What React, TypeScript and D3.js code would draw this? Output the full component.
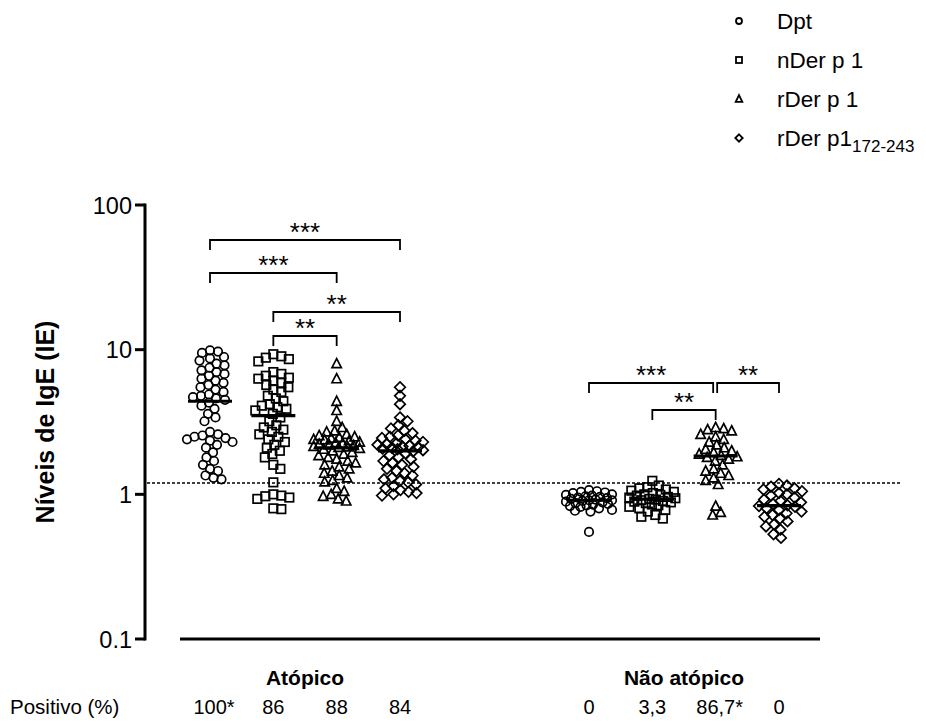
import React from "react";
import * as d3 from "d3";

const groups = ["Atópico", "Não atópico"];
const series = ["Dpt", "nDer p 1", "rDer p 1", "rDer p1"];
const seriesSub = ["", "", "", "172-243"];
const symbolsKind = ["circle", "square", "triangle", "diamond"];

const atopicDpt = [9.9, 9.7, 9.5, 8.9, 8.7, 8.4, 8.0, 7.8, 7.5, 7.2, 7.0, 6.8, 6.6, 6.3, 6.1, 5.9, 5.7, 5.5, 5.3, 5.1, 4.9, 4.8, 4.7, 4.6, 4.5,
  4.3, 4.1, 3.9, 3.6, 3.4, 3.2, 2.7, 2.6, 2.55, 2.5, 2.45, 2.4, 2.35, 2.3, 2.2, 2.1, 1.95, 1.8, 1.7, 1.6, 1.5, 1.45, 1.35, 1.3, 1.27];
const atopicNDer = [9.3, 9.0, 8.8, 8.6, 8.3, 7.0, 6.8, 6.6, 6.4, 6.3, 6.1, 5.9, 5.7, 5.5, 5.3, 5.1, 4.8, 4.6, 4.4, 4.2, 4.1, 4.0, 3.9, 3.8, 3.6,
  3.4, 3.2, 3.0, 2.9, 2.8, 2.7, 2.6, 2.5, 2.4, 2.3, 2.2, 2.1, 2.0, 1.9, 1.8, 1.6, 1.5, 1.21, 1.0, 0.98, 0.97, 0.95, 0.93, 0.8, 0.79];
const atopicRDer = [8.0, 6.3, 4.4, 3.8, 3.2, 2.9, 2.75, 2.7, 2.6, 2.55, 2.5, 2.48, 2.45, 2.4, 2.38, 2.35, 2.3, 2.28, 2.25, 2.22, 2.2, 2.18, 2.15, 2.13, 2.11,
  2.08, 2.05, 2.0, 1.95, 1.9, 1.85, 1.8, 1.75, 1.7, 1.65, 1.6, 1.55, 1.5, 1.45, 1.4, 1.35, 1.3, 1.25, 1.22, 1.1, 1.05, 1.0, 0.97, 0.93, 0.9];
const atopicRDer172 = [5.5, 4.8, 4.2, 3.4, 3.2, 3.0, 2.85, 2.75, 2.65, 2.55, 2.5, 2.45, 2.4, 2.35, 2.3, 2.25, 2.22, 2.2, 2.17, 2.14, 2.12, 2.1, 2.07, 2.05, 2.02,
  1.98, 1.92, 1.86, 1.8, 1.75, 1.7, 1.65, 1.6, 1.55, 1.5, 1.45, 1.4, 1.35, 1.3, 1.27, 1.24, 1.21, 1.17, 1.14, 1.1, 1.07, 1.04, 1.02, 1.0, 0.98];
const nonDpt = [1.07, 1.05, 1.04, 1.03, 1.02, 1.0, 0.99, 0.98, 0.97, 0.96, 0.95, 0.94, 0.93, 0.92, 0.91, 0.91, 0.9, 0.89, 0.88, 0.87,
  0.86, 0.85, 0.84, 0.83, 0.82, 0.8, 0.78, 0.77, 0.76, 0.55];
const nonNDer = [1.24, 1.15, 1.12, 1.1, 1.08, 1.06, 1.04, 1.02, 1.0, 0.99, 0.98, 0.96, 0.95, 0.94, 0.93, 0.92, 0.91, 0.9, 0.89, 0.88,
  0.87, 0.85, 0.84, 0.82, 0.8, 0.78, 0.76, 0.72, 0.7, 0.68];
const nonRDer = [2.9, 2.85, 2.8, 2.75, 2.6, 2.5, 2.4, 2.3, 2.2, 2.1, 2.05, 2.0, 1.95, 1.9, 1.86, 1.82, 1.8, 1.75, 1.7, 1.6,
  1.5, 1.45, 1.4, 1.35, 1.3, 1.25, 1.17, 0.83, 0.75, 0.72];
const nonRDer172 = [1.18, 1.15, 1.13, 1.1, 1.08, 1.05, 1.02, 1.0, 0.98, 0.95, 0.92, 0.9, 0.88, 0.86, 0.84, 0.83, 0.82, 0.8, 0.78, 0.76,
  0.74, 0.72, 0.7, 0.68, 0.65, 0.62, 0.6, 0.57, 0.53, 0.5];

const groupValues = [
  [atopicDpt, atopicNDer, atopicRDer, atopicRDer172],
  [nonDpt, nonNDer, nonRDer, nonRDer172],
];
const positiveLabels = [
  ["100*", "86", "88", "84"],
  ["0", "3,3", "86,7*", "0"],
];
const cutoff = 1.2;
const yTicks = [0.1, 1, 10, 100];
const yTickLabels = ["0.1", "1", "10", "100"];
// brackets: group index, from series, to series, stars, level (stacking order, 0 = top)
const brackets = [
  { g: 0, a: 0, b: 3, stars: "***", level: 0 },
  { g: 0, a: 0, b: 2, stars: "***", level: 1 },
  { g: 0, a: 1, b: 3, stars: "**", level: 2 },
  { g: 0, a: 1, b: 2, stars: "**", level: 3 },
  { g: 1, a: 0, b: 2, stars: "***", level: 4 },
  { g: 1, a: 2, b: 3, stars: "**", level: 4 },
  { g: 1, a: 1, b: 2, stars: "**", level: 5 },
];
const bracketY = [240, 273, 312, 336, 383, 410];

const FONT = "'Liberation Sans', Arial, Helvetica, sans-serif";

function dodge(ys: number[], minDist: number, maxOff: number): number[] {
  const idx = ys.map((_, i) => i).sort((a, b) => ys[a] - ys[b]);
  const xs = new Array(ys.length).fill(0);
  const placed: { x: number; y: number }[] = [];
  const cands: number[] = [0];
  for (let o = 0.5; o <= maxOff; o += 0.5) {
    cands.push(o, -o);
  }
  for (const i of idx) {
    const y = ys[i];
    let best = 0;
    let bestScore = -1;
    let found = false;
    for (const c of cands) {
      let mind = Infinity;
      for (const p of placed) {
        const d = Math.hypot(p.x - c, p.y - y);
        if (d < mind) mind = d;
      }
      if (mind >= minDist) {
        best = c;
        found = true;
        break;
      }
      if (mind > bestScore) {
        bestScore = mind;
        best = c;
      }
    }
    if (!found && bestScore < 0) best = 0;
    xs[i] = best;
    placed.push({ x: best, y });
  }
  return xs;
}

function Marker({ kind, x, y, s, sw = 1.7 }: { kind: string; x: number; y: number; s: number; sw?: number }) {
  const common = { fill: "none", stroke: "#000", strokeWidth: sw };
  if (kind === "circle") return <circle cx={x} cy={y} r={s / 2} {...common} />;
  if (kind === "square") return <rect x={x - s / 2} y={y - s / 2} width={s} height={s} {...common} />;
  if (kind === "triangle") {
    const h = s * 0.95;
    const w = s * 1.1;
    return <path d={`M${x},${y - h / 2 - 1}L${x + w / 2},${y + h / 2}L${x - w / 2},${y + h / 2}Z`} {...common} />;
  }
  const r = s * 0.62;
  return <path d={`M${x},${y - r}L${x + r},${y}L${x},${y + r}L${x - r},${y}Z`} {...common} />;
}

export default function App() {
  const W = 926;
  const H = 722;
  const y = d3.scaleLog().domain([0.1, 100]).range([639, 205]);
  const xOuter = d3.scalePoint<string>().domain(groups).range([305, 684]);
  const xInner = d3.scalePoint<string>().domain(series).range([-95, 95]);
  const cx = (g: number, s: number) => (xOuter(groups[g]) as number) + (xInner(series[s]) as number);
  const axisX = 145;

  const points: React.ReactNode[] = [];
  const medians: React.ReactNode[] = [];
  groupValues.forEach((gv, g) => {
    gv.forEach((vals, s) => {
      const ys = vals.map((v) => y(v));
      const xs = dodge(ys, 8, 23);
      vals.forEach((v, i) => {
        points.push(<Marker key={`p${g}-${s}-${i}`} kind={symbolsKind[s]} x={cx(g, s) + xs[i]} y={ys[i]} s={8.5} />);
      });
      const m = d3.median(vals) as number;
      medians.push(
        <line key={`m${g}-${s}`} x1={cx(g, s) - 22} x2={cx(g, s) + 22} y1={y(m)} y2={y(m)} stroke="#000" strokeWidth={3.2} />
      );
    });
  });

  return (
    <svg width={W} height={H} style={{ display: "block", position: "absolute", left: 0, top: 0 }} fontFamily={FONT}>
      <rect width={W} height={H} fill="#fff" />
      {/* legend */}
      {series.map((s, i) => (
        <g key={`lg${i}`} transform={`translate(0,${21 + i * 39})`}>
          <Marker kind={symbolsKind[i]} x={739} y={0} s={6} sw={1.8} />
          <text x={777} y={8} fontSize={22.5} fill="#000">
            {s}
            {seriesSub[i] && (
              <tspan fontSize={17} dy={6}>
                {seriesSub[i]}
              </tspan>
            )}
          </text>
        </g>
      ))}
      {/* y axis */}
      <line x1={axisX} x2={axisX} y1={y(100) - 1.5} y2={y(0.1) + 1.5} stroke="#000" strokeWidth={3} />
      {yTicks.map((t, i) => (
        <g key={`yt${i}`}>
          <line x1={axisX - 10} x2={axisX} y1={y(t)} y2={y(t)} stroke="#000" strokeWidth={3} />
          <text x={axisX - 13} y={y(t) + 8.5} textAnchor="end" fontSize={23.5} fill="#000">
            {yTickLabels[i]}
          </text>
        </g>
      ))}
      <text
        transform={`translate(54,${(y(100) + y(0.1)) / 2}) rotate(-90)`}
        textAnchor="middle"
        fontSize={25}
        fontWeight="bold"
        fill="#000"
      >
        Níveis de IgE (IE)
      </text>
      {/* x axis */}
      <line x1={180} x2={820} y1={y(0.1)} y2={y(0.1)} stroke="#000" strokeWidth={3} />
      {groups.map((g, i) => (
        <text key={`gl${i}`} x={xOuter(g)} y={685} textAnchor="middle" fontSize={21} fontWeight="bold" fill="#000">
          {g}
        </text>
      ))}
      {/* cutoff */}
      <line x1={axisX + 2} x2={900} y1={y(cutoff)} y2={y(cutoff)} stroke="#000" strokeWidth={1.5} strokeDasharray="3,2" />
      {points}
      {medians}
      {/* brackets */}
      {brackets.map((b, i) => {
        const x1 = cx(b.g, b.a) + (b.g === 1 && b.a === 2 ? 1.5 : 0);
        const x2 = cx(b.g, b.b) - (b.g === 1 && b.b === 2 && b.a === 0 ? 2.5 : 0);
        const by = bracketY[b.level];
        return (
          <g key={`br${i}`}>
            <path d={`M${x1},${by + 10}V${by}H${x2}V${by + 10}`} fill="none" stroke="#000" strokeWidth={1.8} />
            <text x={(x1 + x2) / 2} y={by + 1} textAnchor="middle" fontSize={26} fill="#000">
              {b.stars}
            </text>
          </g>
        );
      })}
      {/* positive % */}
      <text x={10} y={714} fontSize={20.5} fill="#000">
        Positivo (%)
      </text>
      {positiveLabels.map((row, g) =>
        row.map((l, s) => (
          <text key={`pl${g}-${s}`} x={cx(g, s) + (l.endsWith("*") ? 4 : 0)} y={714} textAnchor="middle" fontSize={20} fill="#000">
            {l}
          </text>
        ))
      )}
    </svg>
  );
}
